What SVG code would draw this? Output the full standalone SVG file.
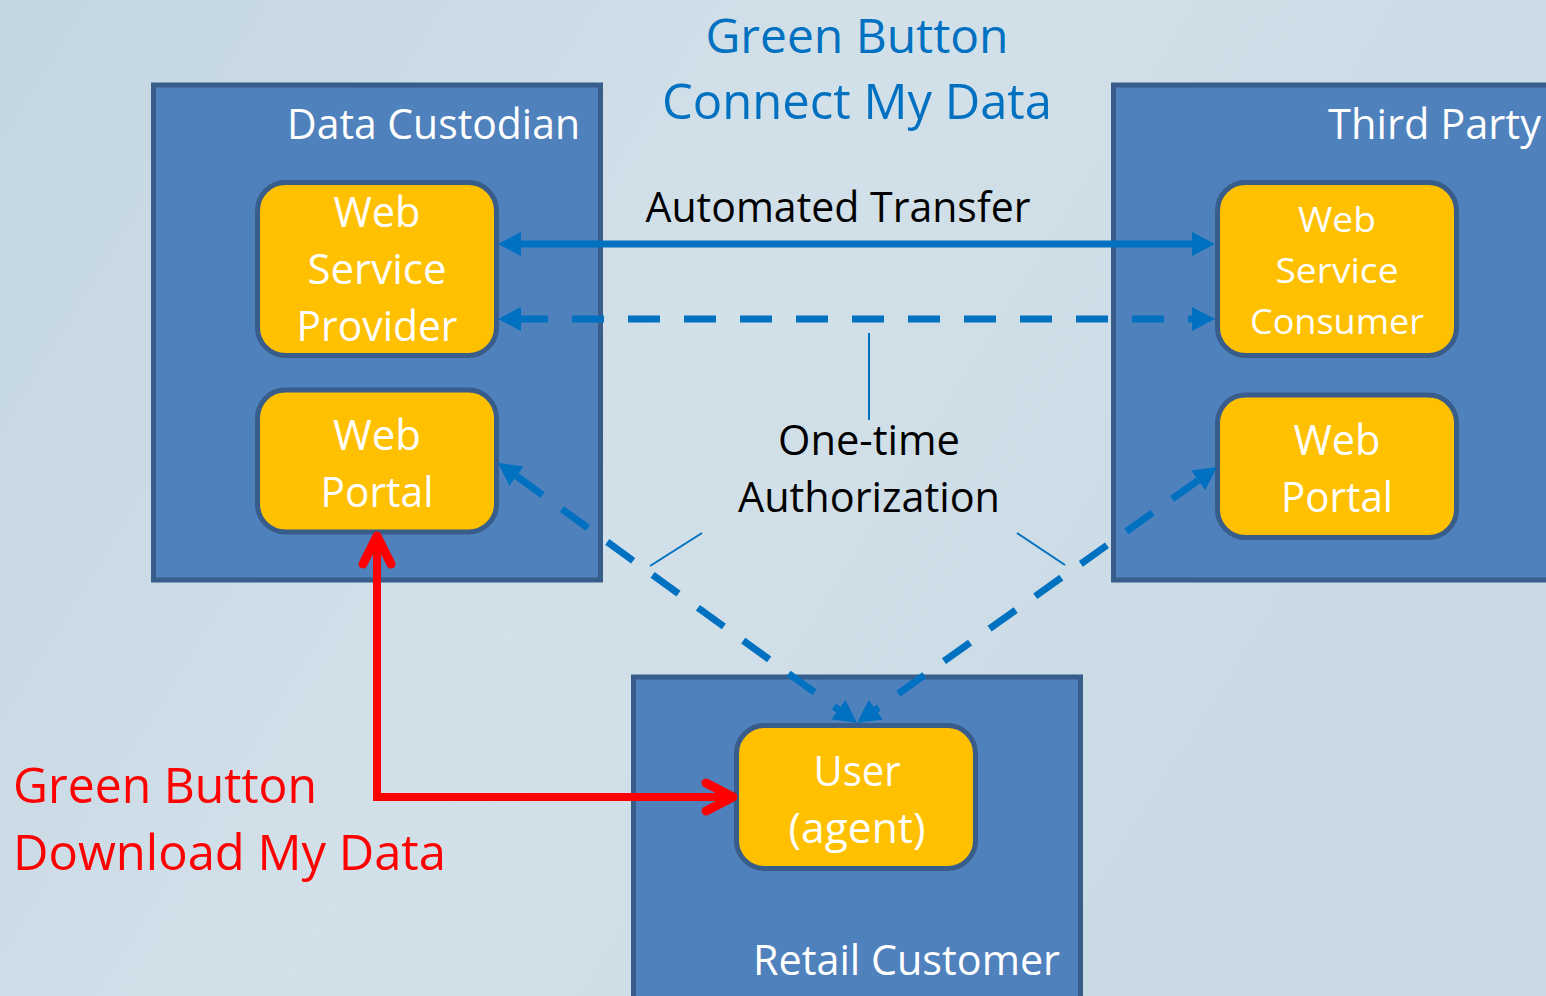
<svg xmlns="http://www.w3.org/2000/svg" width="1546" height="996" viewBox="0 0 1546 996">
  <defs>
    <linearGradient id="bg" x1="0" y1="0" x2="1" y2="0.4">
      <stop offset="0" stop-color="#c3d6e2"/>
      <stop offset="0.5" stop-color="#d2e0e9"/>
      <stop offset="1" stop-color="#c9dae4"/>
    </linearGradient>
    <marker id="ah" markerUnits="userSpaceOnUse" markerWidth="24" markerHeight="25" refX="0" refY="12" orient="auto-start-reverse" viewBox="0 0 24 24">
      <path d="M0,0 L23,12 L0,24 Z" fill="#0070c0"/>
    </marker>
    <style>
      .box { fill: #4f81bd; stroke: #385d8a; stroke-width: 5; }
      .node { fill: #ffc000; stroke: #385d8a; stroke-width: 5; }
      text { font-family: "Open Sans", "Liberation Sans", sans-serif; }
      .wt { fill: #ffffff; }
      .bt { fill: #000000; }
      .tt { fill: #0070c0; }
      .rt { fill: #ff0000; }
      .sol { stroke: #0070c0; stroke-width: 7; fill: none; }
      .dash { stroke: #0070c0; stroke-width: 7; fill: none; stroke-dasharray: 32 24; }
      .thin { stroke: #0070c0; stroke-width: 2; fill: none; }
      .red { stroke: #ff0000; stroke-width: 8; fill: none; }
      .redhead { stroke: #ff0000; stroke-width: 9; fill: none; stroke-linecap: round; stroke-linejoin: round; }
    </style>
  </defs>

  <rect x="0" y="0" width="1546" height="996" fill="url(#bg)"/>

  <g id="title">
    <text class="tt" x="857" y="53" font-size="48" text-anchor="middle" textLength="303" lengthAdjust="spacingAndGlyphs">Green Button</text>
    <text class="tt" x="857" y="119" font-size="50" text-anchor="middle" textLength="390" lengthAdjust="spacingAndGlyphs">Connect My Data</text>
  </g>

  <g id="data-custodian">
    <rect class="box" x="153.5" y="85" width="447" height="495"/>
    <text class="wt" x="580" y="139" font-size="42" text-anchor="end" textLength="293" lengthAdjust="spacingAndGlyphs">Data Custodian</text>
  </g>

  <g id="third-party">
    <rect class="box" x="1113.5" y="85" width="450" height="495"/>
    <text class="wt" x="1328" y="139" font-size="42" textLength="213" lengthAdjust="spacingAndGlyphs">Third Party</text>
  </g>

  <g id="retail-customer">
    <rect class="box" x="633.5" y="677" width="447" height="340"/>
    <text class="wt" x="1060" y="975" font-size="42" text-anchor="end" textLength="307" lengthAdjust="spacingAndGlyphs">Retail Customer</text>
  </g>

  <g id="web-service-provider">
    <rect class="node" x="257.5" y="182.5" width="239" height="173" rx="28"/>
    <text class="wt" x="377" y="227" font-size="42" text-anchor="middle" textLength="87" lengthAdjust="spacingAndGlyphs">Web</text>
    <text class="wt" x="377" y="284" font-size="42" text-anchor="middle" textLength="139" lengthAdjust="spacingAndGlyphs">Service</text>
    <text class="wt" x="377" y="341" font-size="42" text-anchor="middle" textLength="161" lengthAdjust="spacingAndGlyphs">Provider</text>
  </g>

  <g id="web-portal-left">
    <rect class="node" x="257.5" y="390" width="239" height="142" rx="28"/>
    <text class="wt" x="377" y="450" font-size="42" text-anchor="middle" textLength="88" lengthAdjust="spacingAndGlyphs">Web</text>
    <text class="wt" x="377" y="507" font-size="42" text-anchor="middle" textLength="113" lengthAdjust="spacingAndGlyphs">Portal</text>
  </g>

  <g id="web-service-consumer">
    <rect class="node" x="1217.5" y="182.5" width="239" height="173" rx="28"/>
    <text class="wt" x="1337" y="232" font-size="35" text-anchor="middle" textLength="78" lengthAdjust="spacingAndGlyphs">Web</text>
    <text class="wt" x="1337" y="283" font-size="35" text-anchor="middle" textLength="123" lengthAdjust="spacingAndGlyphs">Service</text>
    <text class="wt" x="1337" y="334" font-size="35" text-anchor="middle" textLength="174" lengthAdjust="spacingAndGlyphs">Consumer</text>
  </g>

  <g id="web-portal-right">
    <rect class="node" x="1217.5" y="395" width="239" height="142.5" rx="28"/>
    <text class="wt" x="1337" y="455" font-size="42" text-anchor="middle" textLength="87" lengthAdjust="spacingAndGlyphs">Web</text>
    <text class="wt" x="1337" y="512" font-size="42" text-anchor="middle" textLength="112" lengthAdjust="spacingAndGlyphs">Portal</text>
  </g>

  <g id="user-agent">
    <rect class="node" x="736.5" y="725.5" width="239" height="143" rx="28"/>
    <text class="wt" x="857" y="786" font-size="42" text-anchor="middle" textLength="87" lengthAdjust="spacingAndGlyphs">User</text>
    <text class="wt" x="857" y="843" font-size="42" text-anchor="middle" textLength="137" lengthAdjust="spacingAndGlyphs">(agent)</text>
  </g>

  <g id="connectors">
    <path class="sol" d="M521,244 L1192,244" marker-start="url(#ah)" marker-end="url(#ah)"/>
    <path class="dash" d="M521,319 L1192,319" stroke-dashoffset="5" marker-start="url(#ah)" marker-end="url(#ah)"/>
    <path class="dash" d="M516.6,476.2 L838.4,709.6" marker-start="url(#ah)" marker-end="url(#ah)"/>
    <path class="dash" d="M1198.2,480.3 L875.8,709.7" marker-start="url(#ah)" marker-end="url(#ah)"/>
    <path class="thin" d="M869,333 L869,420"/>
    <path class="thin" d="M650,566 L702,533"/>
    <path class="thin" d="M1017,533 L1065,565"/>
    <path class="red" d="M377,540 L377,797 L730,797" stroke-linejoin="miter"/>
    <path class="redhead" d="M363,564 L377,536 L391,564"/>
    <path class="redhead" d="M706,783 L733,797 L706,811"/>
  </g>

  <g id="labels">
    <text class="bt" x="838" y="222" font-size="42" text-anchor="middle" textLength="385" lengthAdjust="spacingAndGlyphs">Automated Transfer</text>
    <text class="bt" x="869" y="455" font-size="42" text-anchor="middle" textLength="182" lengthAdjust="spacingAndGlyphs">One-time</text>
    <text class="bt" x="869" y="512" font-size="42" text-anchor="middle" textLength="262" lengthAdjust="spacingAndGlyphs">Authorization</text>
    <text class="rt" x="13" y="803" font-size="50" textLength="304" lengthAdjust="spacingAndGlyphs">Green Button</text>
    <text class="rt" x="13" y="870" font-size="50" textLength="433" lengthAdjust="spacingAndGlyphs">Download My Data</text>
  </g>
</svg>
